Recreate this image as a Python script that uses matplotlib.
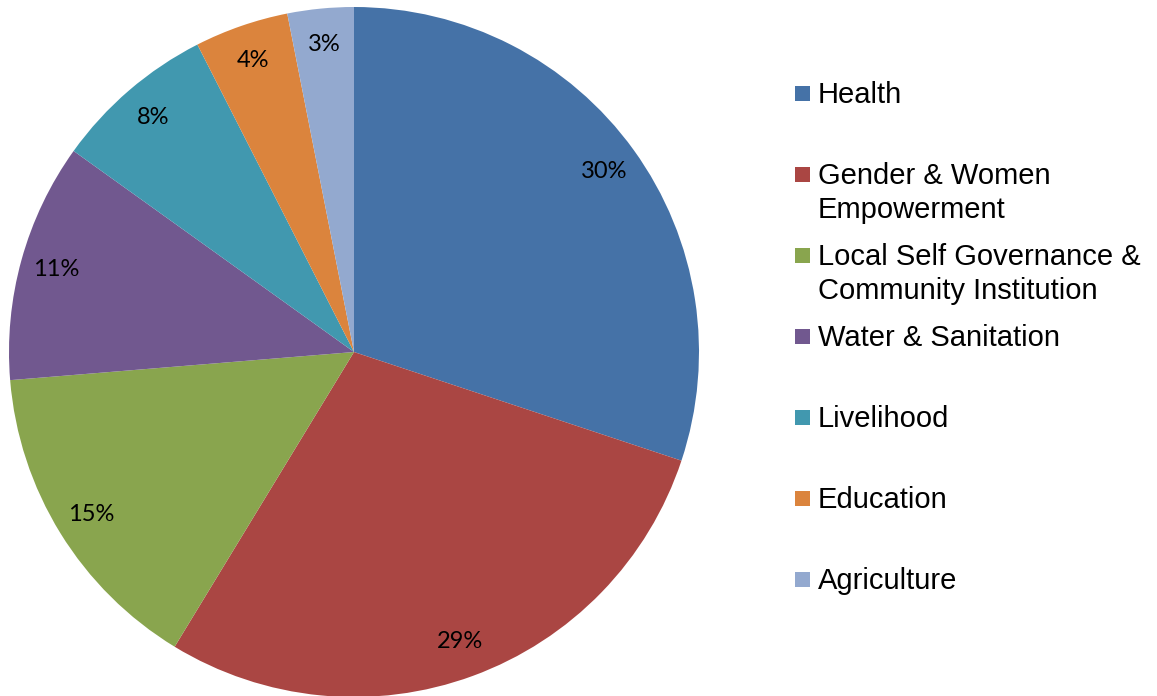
# share of projects by sector - pie with excel-style legend
import matplotlib.pyplot as plt
from matplotlib.patches import Rectangle

sectors = ["Health", "Gender & Women\nEmpowerment",
           "Local Self Governance &\nCommunity Institution",
           "Water & Sanitation", "Livelihood", "Education", "Agriculture"]
shares = [30.1, 28.6, 15.0, 11.2, 7.6, 4.4, 3.1]
colors = ["#4572A7", "#AA4643", "#89A54E", "#71588F", "#4198AF", "#DB843D", "#93A9CF"]

W, H = 1157, 696
fig = plt.figure(figsize=(W / 100, H / 100), dpi=100)

# pie: centre (354, 352) px, radius 345 px
cx, cy, r = 354, 352, 345
ax = fig.add_axes([(cx - r) / W, (H - cy - r) / H, 2 * r / W, 2 * r / H])
wedges, texts, autotexts = ax.pie(
    shares, colors=colors, startangle=90, counterclock=False,
    autopct="%.0f%%", pctdistance=0.895, radius=1,
    wedgeprops=dict(linewidth=0),
    textprops=dict(fontsize=17, family="Lato", color="black"))
ax.set_xlim(-1, 1)
ax.set_ylim(-1, 1)
ax.set_aspect("auto")
ax.axis("off")

# legend drawn by hand, first lines 81 px apart, wrapped lines 34 px
base0, step, lead = 103, 81, 34
for i, (lab, col) in enumerate(zip(sectors, colors)):
    b = base0 + step * i
    fig.patches.append(Rectangle((795 / W, 1 - (b - 2) / H), 15 / W, 15 / H,
                                 transform=fig.transFigure, color=col, linewidth=0))
    for j, line in enumerate(lab.split("\n")):
        fig.text(818 / W, 1 - (b + lead * j) / H, line, fontsize=21,
                 family="Liberation Sans", va="baseline", ha="left")

plt.savefig("out.png", dpi=100)
